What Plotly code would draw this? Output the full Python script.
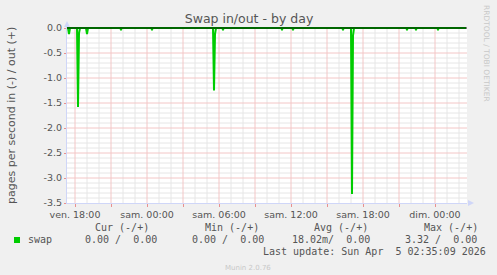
import pandas as pd
import plotly.graph_objects as go

# ---------------- data ----------------
# swap in (pages/s, drawn as negative) - 5 minute samples around activity
swap_in_time = [
    "2026-04-03 17:20", "2026-04-03 17:25", "2026-04-03 17:30", "2026-04-03 17:35",
    "2026-04-03 18:10", "2026-04-03 18:15", "2026-04-03 18:20", "2026-04-03 18:25",
    "2026-04-03 18:55", "2026-04-03 19:00", "2026-04-03 19:05",
    "2026-04-03 21:45", "2026-04-03 21:50", "2026-04-03 21:55",
    "2026-04-04 00:20", "2026-04-04 00:25", "2026-04-04 00:30",
    "2026-04-04 05:30", "2026-04-04 05:35", "2026-04-04 05:40", "2026-04-04 05:45",
    "2026-04-04 06:15", "2026-04-04 06:20", "2026-04-04 06:25",
    "2026-04-04 11:10", "2026-04-04 11:15", "2026-04-04 11:20",
    "2026-04-04 12:05", "2026-04-04 12:10", "2026-04-04 12:15",
    "2026-04-04 16:15", "2026-04-04 16:20", "2026-04-04 16:25",
    "2026-04-04 17:00", "2026-04-04 17:05", "2026-04-04 17:10", "2026-04-04 17:15",
    "2026-04-04 21:35", "2026-04-04 21:40", "2026-04-04 21:45",
    "2026-04-04 22:20", "2026-04-04 22:25", "2026-04-04 22:30",
    "2026-04-05 00:10", "2026-04-05 00:15", "2026-04-05 00:20",
    "2026-04-05 02:35",
]
swap_in = [
    0.0, 0.0, 0.12, 0.0,
    0.0, 1.58, 0.10, 0.0,
    0.0, 0.12, 0.0,
    0.0, 0.03, 0.0,
    0.0, 0.03, 0.0,
    0.0, 1.25, 0.12, 0.0,
    0.0, 0.03, 0.0,
    0.0, 0.03, 0.0,
    0.0, 0.03, 0.0,
    0.0, 0.03, 0.0,
    0.0, 3.32, 0.15, 0.0,
    0.0, 0.03, 0.0,
    0.0, 0.03, 0.0,
    0.0, 0.03, 0.0,
    0.0,
]
swap_out_time = ["2026-04-03 17:20", "2026-04-05 02:35"]
swap_out = [0.0, 0.0]

x_range = ["2026-04-03 17:20", "2026-04-05 02:40"]
x_tick_vals = [
    "2026-04-03 18:00", "2026-04-03 21:00", "2026-04-04 00:00", "2026-04-04 03:00",
    "2026-04-04 06:00", "2026-04-04 09:00", "2026-04-04 12:00", "2026-04-04 15:00",
    "2026-04-04 18:00", "2026-04-04 21:00", "2026-04-05 00:00",
]
x_tick_text = [
    "ven. 18:00", "", "sam. 00:00", "", "sam. 06:00", "", "sam. 12:00", "",
    "sam. 18:00", "", "dim. 00:00",
]
y_tick_vals = [0.0, -0.5, -1.0, -1.5, -2.0, -2.5, -3.0, -3.5]
y_tick_text = ["0.0", "-0.5", "-1.0", "-1.5", "-2.0", "-2.5", "-3.0", "-3.5"]

title_text = "Swap in/out - by day"
y_title = "pages per second in (-) / out (+)"
legend_name = "swap"
legend_headers = ["Cur (-/+)", "Min (-/+)", "Avg (-/+)", "Max (-/+)"]
legend_values = ["0.00 /  0.00", "0.00 /  0.00", "18.02m/  0.00", "3.32 /  0.00"]
last_update = "Last update: Sun Apr  5 02:35:09 2026"
watermark = "RRDTOOL / TOBI OETIKER"
footer = "Munin 2.0.76"

# ---------------- style ----------------
GREEN = "#00CC00"
FONT_COL = "#555555"
MGRID = "#F3C6C6"
GRID = "#E6E6E6"
MTICK = "#E89090"
AXIS = "#CFD6F8"
L, R, T, B = 67, 30, 27, 72
W, H = 497, 275
PW, PH = W - L - R, H - T - B


def px(x):
    return (x - L) / PW


def py(y):
    return (H - B - y) / PH


def nb(s):
    return s.replace(" ", "\u00a0")


fig = go.Figure()
fig.add_trace(go.Scatter(
    x=swap_in_time, y=[-v for v in swap_in], mode="lines",
    line=dict(color=GREEN, width=2), hoverinfo="skip", showlegend=False))
fig.add_trace(go.Scatter(
    x=swap_out_time, y=swap_out, mode="lines",
    line=dict(color=GREEN, width=2), hoverinfo="skip", showlegend=False))

axis_font = dict(family="DejaVu Sans", size=9.5, color=FONT_COL)

fig.update_layout(
    width=W, height=H,
    margin=dict(l=L, r=R, t=T, b=B, pad=0),
    paper_bgcolor="#F0F0F0", plot_bgcolor="#FFFFFF",
    font=dict(family="DejaVu Sans", color=FONT_COL, size=9.5),
    showlegend=False,
    title=dict(text=title_text, x=249 / W, y=1 - 19 / H, xanchor="center",
               yanchor="middle", font=dict(family="DejaVu Sans", size=12.5, color=FONT_COL)),
    xaxis=dict(
        type="date", range=x_range,
        tickmode="array", tickvals=x_tick_vals, ticktext=x_tick_text,
        showgrid=False,
        ticks="outside", ticklen=3, tickcolor=MTICK, tickwidth=1,
        showline=True, linecolor=AXIS, linewidth=1, zeroline=False,
        tickfont=axis_font,
    ),
    yaxis=dict(
        range=[-3.5, 0.02],
        tickmode="array", tickvals=y_tick_vals, ticktext=y_tick_text,
        showgrid=False,
        ticks="outside", ticklen=2, tickcolor=MTICK, tickwidth=1,
        showline=True, linecolor=AXIS, linewidth=1, zeroline=False,
        tickfont=axis_font,
    ),
)

# minor grid (hourly / every 0.1), then major grid (3-hourly / every 0.5)
hour_grid = pd.date_range("2026-04-03 18:00", "2026-04-05 02:00", freq="1h")
for t in hour_grid:
    if t.hour % 3:
        fig.add_shape(type="line", xref="x", yref="paper", x0=t, x1=t, y0=0, y1=1,
                      line=dict(color=GRID, width=1), layer="below")
for k in range(1, 35):
    if k % 5:
        yv = -k / 10
        fig.add_shape(type="line", xref="paper", yref="y", x0=0, x1=1, y0=yv, y1=yv,
                      line=dict(color=GRID, width=1), layer="below")
for t in x_tick_vals:
    fig.add_shape(type="line", xref="x", yref="paper", x0=t, x1=t, y0=0, y1=1,
                  line=dict(color=MGRID, width=1), layer="below")
for yv in y_tick_vals[1:-1]:
    fig.add_shape(type="line", xref="paper", yref="y", x0=0, x1=1, y0=yv, y1=yv,
                  line=dict(color=MGRID, width=1), layer="below")

# zero rule (HRULE) drawn above data
fig.add_shape(type="line", xref="paper", x0=0, x1=1, yref="y", y0=0, y1=0,
              line=dict(color="#000000", width=1), layer="above")
# axis arrows
fig.add_shape(type="path", xref="paper", yref="paper", xsizemode="pixel", ysizemode="pixel",
              xanchor=0, yanchor=1, path="M -3,0 L 3,0 L 0,6 Z",
              fillcolor=AXIS, line=dict(width=0), layer="above")
fig.add_shape(type="path", xref="paper", yref="paper", xsizemode="pixel", ysizemode="pixel",
              xanchor=1, yanchor=0, path="M 1,-3 L 1,3 L 7,0 Z",
              fillcolor=AXIS, line=dict(width=0), layer="above")
# legend swatch
fig.add_shape(type="rect", xref="paper", yref="paper",
              x0=px(14), x1=px(20), y0=py(243), y1=py(237),
              fillcolor=GREEN, line=dict(width=0))

mono = dict(family="DejaVu Sans Mono", size=10, color=FONT_COL)
ann = []
ann.append(dict(text=y_title, x=px(12), y=py(116), textangle=-90,
                font=dict(family="DejaVu Sans", size=11, color=FONT_COL)))
ann.append(dict(text=watermark, x=px(487), y=py(53), textangle=90,
                font=dict(family="DejaVu Sans", size=7.5, color="#C8C8C8")))
ann.append(dict(text=footer, x=px(248), y=py(268),
                font=dict(family="DejaVu Sans", size=7, color="#C8C8C8")))
header_x = [94, 204, 313, 423]
value_x = [84, 191, 291, 404]
for hx, h in zip(header_x, legend_headers):
    ann.append(dict(text=nb(h), x=px(hx), y=py(227.5), xanchor="left", font=mono))
for vx, v in zip(value_x, legend_values):
    ann.append(dict(text=nb(v), x=px(vx), y=py(239.5), xanchor="left", font=mono))
ann.append(dict(text=nb(legend_name), x=px(27), y=py(239.5), xanchor="left", font=mono))
ann.append(dict(text=nb(last_update), x=px(262), y=py(251.5), xanchor="left", font=mono))

for a in ann:
    a.setdefault("xanchor", "center")
    a.update(xref="paper", yref="paper", yanchor="middle", showarrow=False, borderpad=0)
    fig.add_annotation(**a)

fig.write_html("out.html")
